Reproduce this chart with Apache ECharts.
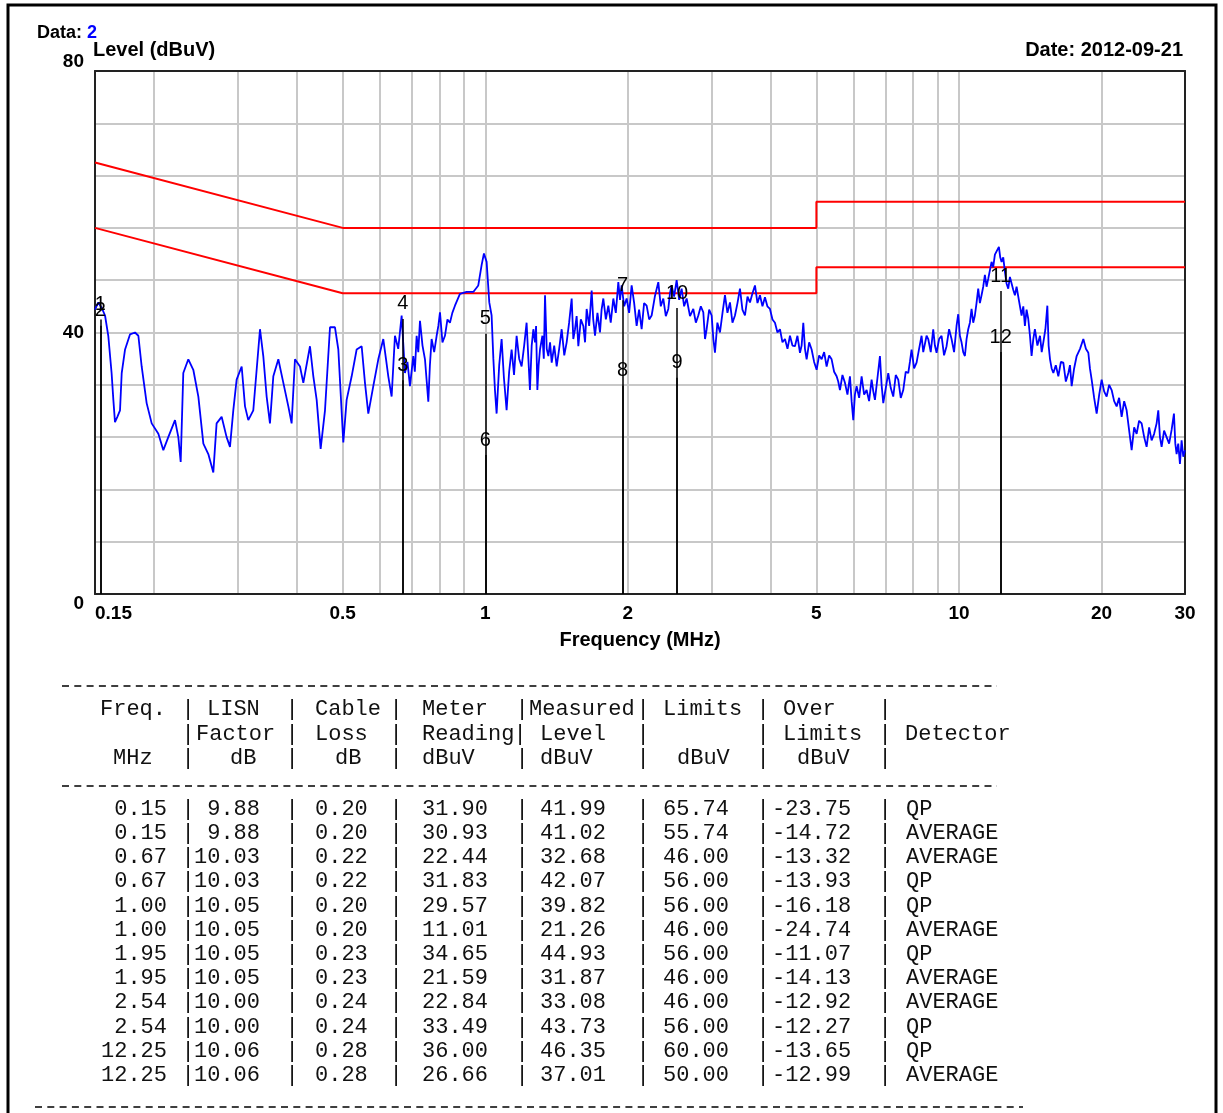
<!DOCTYPE html>
<html><head><meta charset="utf-8">
<script src="https://cdn.jsdelivr.net/npm/echarts@6/dist/echarts.min.js"></script>
<style>html,body{margin:0;padding:0;background:#fff}#c{width:1223px;height:1113px}</style>
</head><body><div id="c"></div>
<script>
// ---------- axis ticks ----------
const gridFreqs = [0.2,0.3,0.4,0.5,0.6,0.7,0.8,0.9,1,2,3,4,5,6,7,8,9,10,20,30];
const xLabelFreqs = [0.15,0.5,1,2,5,10,20,30];
const yLabelValues = [0,40,80];

// ---------- limit lines (MHz, dBuV) ----------
const limitQP = [[0.15,66],[0.5,56],[5,56],[5,60],[30,60]];
const limitAV = [[0.15,56],[0.5,46],[5,46],[5,50],[30,50]];

// ---------- measured spectrum (MHz, dBuV) ----------
const spectrum = [
[0.150,43.5],[0.1524,44.6],[0.1549,43.8],[0.1575,42.6],[0.160,39.5],[0.1626,33.8],[0.164,29.7],[0.1653,26.3],[0.1672,27.1],[0.1694,28.1],
[0.1708,33.8],[0.1736,37.4],[0.1778,39.7],[0.1822,40.0],[0.1852,39.5],[0.1882,34.8],[0.1928,29.2],[0.1976,26.1],[0.2041,24.5],[0.2091,22.0],
[0.2142,24.0],[0.2213,26.6],[0.2249,24.0],[0.2275,20.2],[0.2304,33.8],[0.2361,35.9],[0.2419,34.3],[0.2479,30.2],[0.2540,23.0],[0.2602,21.4],
[0.2666,18.6],[0.2709,26.1],[0.2776,27.1],[0.2844,24.0],[0.2891,22.5],[0.2938,28.1],[0.2986,32.8],[0.3060,34.8],[0.3110,28.7],[0.3160,26.6],
[0.3238,28.1],[0.3318,37.4],[0.3345,40.5],[0.3399,36.4],[0.3455,30.2],[0.3511,26.1],[0.3569,33.3],[0.3657,35.9],[0.3747,32.3],[0.3839,28.7],
[0.3901,26.1],[0.3965,35.9],[0.4063,34.8],[0.4129,32.3],[0.4265,37.9],[0.4335,33.3],[0.4406,29.7],[0.4492,22.2],[0.4588,28.1],[0.4701,40.8],
[0.4816,40.8],[0.4895,37.4],[0.5015,23.2],[0.5097,29.7],[0.5223,33.3],[0.5351,37.4],[0.5483,37.9],[0.5572,32.3],[0.5663,27.6],[0.5802,31.8],
[0.5945,35.9],[0.6091,39.0],[0.6170,36.0],[0.6241,33.3],[0.6343,30.2],[0.6446,39.5],[0.6550,37.5],[0.6659,42.6],[0.6768,33.8],[0.6850,35.5],
[0.6934,31.8],[0.7047,36.4],[0.7100,34.0],[0.7163,39.5],[0.7220,37.0],[0.7280,41.8],[0.7370,38.0],[0.7459,35.9],[0.7581,29.4],[0.7640,35.0],
[0.7704,39.0],[0.7800,37.0],[0.7894,39.5],[0.7960,41.0],[0.8023,43.1],[0.8120,38.5],[0.8220,39.5],[0.8320,42.0],[0.8422,41.5],[0.8520,43.0],
[0.8629,44.1],[0.8841,45.9],[0.9133,46.2],[0.9433,46.2],[0.9665,47.2],[0.9823,50.3],[0.9935,52.1],[1.0065,50.8],[1.0196,44.6],[1.0312,42.6],
[1.0400,36.0],[1.0481,31.2],[1.0566,27.6],[1.0700,35.0],[1.0826,39.0],[1.0950,33.0],[1.1092,28.1],[1.1230,34.0],[1.1365,37.4],[1.1500,33.5],
[1.1645,39.5],[1.1790,36.0],[1.1931,34.8],[1.2080,38.0],[1.2224,41.5],[1.2330,36.0],[1.2424,31.2],
[1.2530,38.0],[1.2632,40.5],[1.2735,38.5],[1.2800,41.0],[1.2880,31.2],[1.2960,35.0],[1.3048,37.4],[1.3200,39.5],[1.3290,36.0],[1.3369,45.7],
[1.3480,37.5],[1.3588,36.4],[1.3700,38.5],[1.3810,35.4],[1.3980,38.0],[1.4149,34.8],[1.4320,37.5],[1.4497,40.5],[1.4680,36.5],[1.4852,38.5],
[1.5030,41.5],[1.5218,45.2],[1.5340,39.0],[1.5467,40.5],[1.5590,42.5],[1.5719,37.9],[1.5910,42.0],[1.6105,41.0],[1.6240,38.5],[1.6368,43.6],
[1.6570,41.0],[1.6771,46.4],[1.6900,42.0],[1.7046,39.5],[1.7250,43.0],[1.7464,40.0],[1.7600,43.5],[1.7749,45.2],[1.7970,42.0],[1.8186,44.1],
[1.8400,41.5],[1.8633,45.2],[1.8860,43.0],[1.9091,47.7],[1.9250,45.0],[1.9403,47.2],[1.9640,44.0],[1.9880,45.2],[2.0120,43.0],[2.0369,47.2],
[2.0620,44.5],[2.0870,41.0],[2.1120,43.5],[2.1383,40.5],[2.1640,44.5],[2.1909,44.1],[2.2180,42.0],[2.2448,42.6],[2.2800,45.5],[2.3187,47.7],
[2.3470,44.0],[2.3757,45.2],[2.4050,42.5],[2.4342,43.6],[2.4540,46.0],[2.4740,47.2],[2.5040,45.5],[2.5349,48.0],[2.5660,45.0],[2.5971,46.7],
[2.6290,44.0],[2.6610,45.2],[2.7050,42.5],[2.7488,43.6],[2.7830,41.5],[2.8164,42.6],[2.8510,44.0],[2.8856,43.1],[2.9100,39.0],[2.9328,40.5],
[2.9690,43.5],[3.0050,42.6],[3.0300,39.0],[3.0540,36.9],[3.0900,41.5],[3.1292,40.0],[3.1680,43.0],[3.2061,45.7],[3.2450,43.0],[3.2850,44.6],
[3.3250,41.5],[3.3657,42.6],[3.4070,44.5],[3.4485,46.7],[3.4900,43.5],[3.5334,42.6],[3.5770,45.5],[3.6203,44.6],[3.6650,46.0],[3.7094,47.2],
[3.7550,44.5],[3.8006,45.7],[3.8470,44.0],[3.8940,45.4],[3.9400,44.0],[3.9899,43.6],[4.0390,42.0],[4.0880,41.5],[4.1380,40.0],[4.1886,40.5],
[4.2400,38.5],[4.2917,39.0],[4.3450,37.5],[4.3973,39.5],[4.4510,38.0],[4.5054,37.9],[4.5600,39.5],[4.6163,36.9],[4.6540,38.0],[4.6917,41.5],
[4.7300,37.5],[4.7684,35.9],[4.8270,38.5],[4.8857,37.4],[4.9450,35.5],[5.0058,34.3],[5.0670,36.5],[5.1290,35.9],[5.1920,37.0],[5.2551,34.8],
[5.3200,36.5],[5.3843,35.9],[5.4500,34.0],[5.5167,33.3],[5.5600,32.5],[5.6069,31.2],[5.6750,33.5],[5.7449,32.3],[5.8150,30.5],[5.8860,33.3],
[5.9340,29.5],[5.982,26.6],[6.030,30.5],[6.080,31.8],[6.155,30.0],[6.2295,33.3],[6.306,30.5],[6.3825,31.2],[6.460,29.5],[6.5394,32.8],
[6.593,31.0],[6.6462,29.7],[6.727,33.0],[6.8095,36.4],[6.865,32.0],[6.9208,29.2],[7.005,31.5],[7.0908,33.8],[7.178,31.5],[7.2651,30.2],
[7.354,33.5],[7.4436,32.8],[7.535,30.0],[7.6266,31.2],[7.720,34.0],[7.814,33.8],[7.878,35.5],[7.9418,37.4],[8.039,34.5],[8.137,35.4],
[8.237,37.5],[8.337,39.5],[8.405,37.0],[8.4732,36.9],[8.542,39.5],[8.6117,39.0],[8.717,37.0],[8.8233,40.5],[8.895,38.0],[8.9676,36.9],
[9.078,39.0],[9.188,39.5],[9.300,36.5],[9.4137,37.9],[9.530,40.5],[9.645,39.0],[9.764,37.0],[9.8822,41.0],[9.9624,42.8],[10.044,39.5],
[10.125,38.5],[10.208,37.0],[10.291,36.4],[10.375,39.0],[10.459,40.5],[10.545,41.5],[10.630,43.6],[10.716,41.5],[10.803,42.6],[10.890,44.5],
[10.980,46.7],[11.070,44.5],[11.159,45.7],[11.250,47.0],[11.342,48.8],[11.435,47.0],[11.527,48.2],[11.620,49.5],[11.715,50.8],[11.810,50.0],
[11.907,51.9],[12.020,52.0],[12.141,53.1],[12.220,51.5],[12.300,50.8],[12.400,51.5],[12.500,49.3],[12.600,47.5],[12.705,46.7],[12.810,48.5],
[12.913,48.2],[13.020,46.5],[13.124,45.7],[13.230,47.0],[13.338,46.7],[13.450,44.0],[13.556,42.6],[13.670,44.0],[13.777,41.0],[13.890,43.5],
[14.003,42.1],[14.120,39.5],[14.232,36.4],[14.350,39.0],[14.464,40.5],[14.640,38.0],[14.826,39.5],[14.950,37.0],[15.069,38.5],[15.220,40.5],
[15.365,44.1],[15.460,38.0],[15.566,35.9],[15.690,34.5],[15.820,33.8],[16.010,35.0],[16.209,33.3],[16.410,35.5],[16.607,35.4],[16.810,32.5],
[17.015,33.8],[17.150,35.0],[17.293,31.8],[17.500,34.5],[17.718,36.4],[18.010,37.5],[18.302,39.0],[18.530,37.5],[18.752,36.9],[18.900,34.5],
[19.058,32.8],[19.290,30.0],[19.527,27.6],[19.770,30.5],[20.007,32.8],[20.250,31.0],[20.499,30.2],[20.750,32.0],[21.003,31.2],[21.260,29.5],
[21.519,28.7],[21.780,30.0],[22.048,27.1],[22.320,29.5],[22.590,28.1],[22.870,25.0],[23.146,22.0],[23.430,25.5],[23.715,24.5],[24.000,26.5],
[24.297,26.1],[24.600,24.0],[24.894,22.5],[25.200,25.5],[25.507,23.5],[25.820,24.5],[26.134,26.1],[26.346,28.1],[26.560,24.0],[26.777,22.5],
[27.100,25.0],[27.435,24.0],[27.770,23.0],[28.110,25.1],[28.431,27.6],[28.620,23.0],[28.800,21.4],[29.030,23.0],[29.270,19.9],[29.510,23.5],
[29.750,21.0],[30.000,22.0]
];

// ---------- result table ----------
const tFreq    = [0.15,0.15,0.67,0.67,1.00,1.00,1.95,1.95,2.54,2.54,12.25,12.25];
const tLisn    = [9.88,9.88,10.03,10.03,10.05,10.05,10.05,10.05,10.00,10.00,10.06,10.06];
const tCable   = [0.20,0.20,0.22,0.22,0.20,0.20,0.23,0.23,0.24,0.24,0.28,0.28];
const tReading = [31.90,30.93,22.44,31.83,29.57,11.01,34.65,21.59,22.84,33.49,36.00,26.66];
const tLevel   = [41.99,41.02,32.68,42.07,39.82,21.26,44.93,31.87,33.08,43.73,46.35,37.01];
const tLimit   = [65.74,55.74,46.00,56.00,56.00,46.00,56.00,46.00,46.00,56.00,60.00,50.00];
const tOver    = [-23.75,-14.72,-13.32,-13.93,-16.18,-24.74,-11.07,-14.13,-12.92,-12.27,-13.65,-12.99];
const tDet     = ['QP','AVERAGE','AVERAGE','QP','QP','AVERAGE','QP','AVERAGE','AVERAGE','QP','QP','AVERAGE'];
// marker positions as drawn on the plot (the first pair sits just right of 0.15 MHz)
const markerFreq = [0.154,0.154,0.67,0.67,1.00,1.00,1.95,1.95,2.54,2.54,12.25,12.25];

// ---------- build ----------
const chart = echarts.init(document.getElementById('c'), null, {renderer:'canvas'});
const SANS = '"Liberation Sans", Arial, sans-serif';
const MONO = '"Liberation Mono", "DejaVu Sans Mono", monospace';

function txt(x, y, s, font, align, color){
  return {type:'text', x:x, y:y, silent:true, z:100,
    style:{text:s, font:font, fill:color||'#000', textAlign:align||'left', textVerticalAlign:'middle', align:align||'left', verticalAlign:'middle'}};
}
const els = [];
// outer frame
els.push({type:'rect', shape:{x:8, y:5, width:1208, height:1130}, style:{fill:'none', stroke:'#000', lineWidth:3}, silent:true, z:0});
// header texts
els.push({type:'text', x:37, y:33, silent:true, style:{text:'{a|Data: }{b|2}', font:'bold 18px '+SANS, textVerticalAlign:'middle', verticalAlign:'middle',
  rich:{a:{font:'bold 18px '+SANS, fill:'#000'}, b:{font:'bold 18px '+SANS, fill:'#0000ff'}}}});
els.push(txt(93, 50, 'Level (dBuV)', 'bold 20px '+SANS, 'left'));
els.push(txt(1183, 50, 'Date: 2012-09-21', 'bold 20px '+SANS, 'right'));
els.push(txt(640, 640, 'Frequency (MHz)', 'bold 20px '+SANS, 'center'));

// table
const tf = '22px ' + MONO;
[686, 786].forEach(y => els.push({type:'line', shape:{x1:62, y1:y, x2:997, y2:y}, style:{stroke:'#000', lineWidth:1.5, lineDash:[7,5.3]}, silent:true}));
els.push({type:'line', shape:{x1:35, y1:1107, x2:1023, y2:1107}, style:{stroke:'#000', lineWidth:1.5, lineDash:[7,5.3]}, silent:true});
const bars = [188, 292, 396, 522, 643, 763, 885];
const hdr = [
  {y:709, cells:[[100,'Freq.'],[207,'LISN'],[315,'Cable'],[422,'Meter'],[529,'Measured'],[663,'Limits'],[783,'Over']], bars:bars},
  {y:734, cells:[[196,'Factor'],[315,'Loss'],[422,'Reading'],[540,'Level'],[783,'Limits'],[905,'Detector']], bars:[188,292,396,520,643,763,885]},
  {y:758, cells:[[113,'MHz'],[230,'dB'],[335,'dB'],[422,'dBuV'],[540,'dBuV'],[677,'dBuV'],[797,'dBuV']], bars:bars}
];
hdr.forEach(r => {
  r.cells.forEach(c => els.push(txt(c[0], r.y, c[1], tf, 'left', '#111')));
  r.bars.forEach(b => els.push(txt(b, r.y, '|', tf, 'center', '#111')));
});
tFreq.forEach((f, i) => {
  const y = 809 + 24.2 * i;
  els.push(txt(167, y, f.toFixed(2), tf, 'right', '#111'));
  els.push(txt(260, y, tLisn[i].toFixed(2), tf, 'right', '#111'));
  els.push(txt(315, y, tCable[i].toFixed(2), tf, 'left', '#111'));
  els.push(txt(422, y, tReading[i].toFixed(2), tf, 'left', '#111'));
  els.push(txt(540, y, tLevel[i].toFixed(2), tf, 'left', '#111'));
  els.push(txt(663, y, tLimit[i].toFixed(2), tf, 'left', '#111'));
  els.push(txt(772, y, tOver[i].toFixed(2), tf, 'left', '#111'));
  els.push(txt(906, y, tDet[i], tf, 'left', '#111'));
  bars.forEach(b => els.push(txt(b, y, '|', tf, 'center', '#111')));
});

const gridLine = {show:true, lineStyle:{color:'#c8c8c8', width:2}};
const option = {
  animation:false,
  backgroundColor:'#fff',
  grid:{left:95, top:71, right:38, bottom:519, containLabel:false},
  xAxis:[{
    type:'log', logBase:10, min:0.15, max:30,
    axisLine:{show:true, onZero:false, lineStyle:{color:'#222', width:2}},
    axisTick:{show:false, customValues:gridFreqs},
    splitLine:gridLine,
    minorTick:{show:false}, minorSplitLine:{show:false},
    axisLabel:{customValues:xLabelFreqs, margin:10, color:'#000', fontFamily:'Liberation Sans', fontWeight:'bold', fontSize:19,
      alignMinLabel:'left', formatter:v => String(+(+v).toPrecision(3))}
  },{
    type:'log', logBase:10, min:0.15, max:30, position:'top',
    axisLine:{show:true, onZero:false, lineStyle:{color:'#222', width:2}},
    axisTick:{show:false}, axisLabel:{show:false}, splitLine:{show:false}
  }],
  yAxis:[{
    type:'value', min:0, max:80, interval:8,
    axisLine:{show:true, onZero:false, lineStyle:{color:'#222', width:2}},
    axisTick:{show:false},
    splitLine:gridLine,
    axisLabel:{customValues:yLabelValues, margin:11, color:'#000', fontFamily:'Liberation Sans', fontWeight:'bold', fontSize:19,
      verticalAlignMinLabel:'top', verticalAlignMaxLabel:'bottom'}
  },{
    type:'value', min:0, max:80, position:'right',
    axisLine:{show:true, onZero:false, lineStyle:{color:'#222', width:2}},
    axisTick:{show:false}, axisLabel:{show:false}, splitLine:{show:false}
  }],
  series:[
    {type:'line', name:'QP limit', data:limitQP, symbol:'none', lineStyle:{color:'#ff0000', width:2}, z:3},
    {type:'line', name:'AV limit', data:limitAV, symbol:'none', lineStyle:{color:'#ff0000', width:2}, z:3},
    {type:'line', name:'Level', data:spectrum, symbol:'none', lineStyle:{color:'#0000ff', width:1.8}, z:4},
    {type:'scatter', name:'Markers', z:6,
      data:markerFreq.map((f, i) => ({value:[f, tLevel[i]], name:String(i + 1)})),
      symbol:'circle', symbolSize:2, itemStyle:{color:'rgba(0,0,0,0)'},
      label:{show:true, position:'top', distance:4, formatter:p => p.name, color:'#000', opacity:1,
        textBorderWidth:0, fontFamily:'Liberation Sans', fontSize:20},
      labelLayout:{hideOverlap:false},
      markLine:{silent:true, symbol:['none','none'], animation:false,
        lineStyle:{color:'#000', width:1.5, type:'solid'}, label:{show:false},
        emphasis:{disabled:true},
        data:markerFreq.map((f, i) => [{coord:[f, 0]}, {coord:[f, tLevel[i]]}])}
    }
  ],
  graphic:{elements:els}
};
chart.setOption(option);
</script></body></html>
